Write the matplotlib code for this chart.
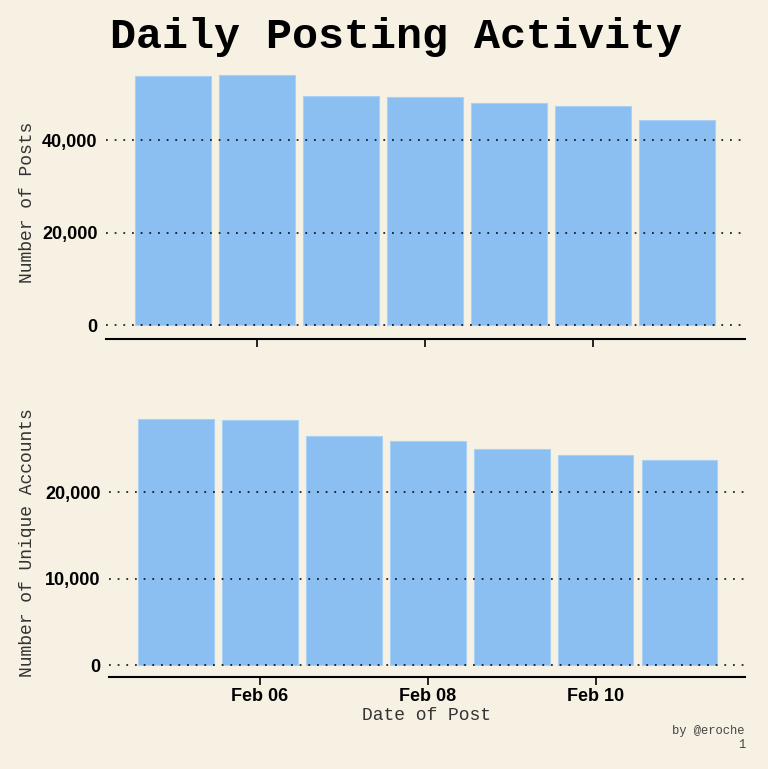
import matplotlib
matplotlib.use("Agg")
import matplotlib.pyplot as plt
import matplotlib.dates as mdates
import matplotlib.ticker as mticker
import pandas as pd

dates = ["2023-02-05", "2023-02-06", "2023-02-07", "2023-02-08",
         "2023-02-09", "2023-02-10", "2023-02-11"]
posts = [53800, 53950, 49600, 49350, 48000, 47350, 44300]
accounts = [28450, 28330, 26470, 25900, 24970, 24280, 23700]

BG = "#F7F1E4"
BAR = "#8BBFF1"
x = pd.to_datetime(dates)

fig = plt.figure(figsize=(7.68, 7.69), dpi=100, facecolor=BG)
W, H = 768, 769

def add_ax(left, right, top, bottom):
    return fig.add_axes([left / W, 1 - bottom / H, (right - left) / W, (bottom - top) / H])

ax1 = add_ax(106, 745, 66, 339)
ax2 = add_ax(109, 745, 405, 677)

mono = "Liberation Mono"
sans = "Liberation Sans"

for ax, vals, ylim, ticks, xl, xr in [
    (ax1, posts, (-3027, 56000), [0, 20000, 40000], 0.80, 0.81),
    (ax2, accounts, (-1387, 30058), [0, 10000, 20000], 0.80, 0.78),
]:
    ax.set_facecolor(BG)
    ax.bar(x, vals, width=0.9, color=BAR, edgecolor="#A9D1F5", linewidth=0.8, zorder=1)
    ax.set_ylim(*ylim)
    ax.set_xlim(x[0] - pd.Timedelta(days=xl), x[-1] + pd.Timedelta(days=xr))
    ax.set_yticks(ticks)
    ax.yaxis.set_major_formatter(mticker.FuncFormatter(lambda v, p: f"{int(v):,}"))
    ax.grid(axis="y", linestyle=(0, (1, 3.8)), color="black", linewidth=1.3, alpha=0.85, zorder=2)
    ax.grid(axis="x", visible=False)
    ax.set_axisbelow(False)
    for s in ["top", "right", "left"]:
        ax.spines[s].set_visible(False)
    ax.spines["bottom"].set_linewidth(1.5)
    ax.spines["bottom"].set_color("black")
    ax.tick_params(axis="y", length=0, pad=6)
    ax.tick_params(axis="x", length=6, width=1.2, color="black", pad=2)
    for t in ax.get_yticklabels():
        t.set_fontfamily(sans)
        t.set_fontweight("bold")
        t.set_fontsize(13)
    ax.xaxis.set_major_locator(mdates.DayLocator(bymonthday=[6, 8, 10]))
    ax.xaxis.set_major_formatter(mdates.DateFormatter("%b %d"))

ax1.tick_params(axis="x", labelbottom=False)
for t in ax2.get_xticklabels():
    t.set_fontfamily(sans)
    t.set_fontweight("bold")
    t.set_fontsize(13)

fig.text(28 / W, 1 - 202 / H, "Number of Posts", rotation=90, ha="center", va="center",
         fontfamily=mono, fontsize=13, color="#333333")
fig.text(28 / W, 1 - 543 / H, "Number of Unique Accounts", rotation=90, ha="center", va="center",
         fontfamily=mono, fontsize=13, color="#333333")
fig.text(427 / W, 1 - 715 / H, "Date of Post", ha="center", va="center",
         fontfamily=mono, fontsize=13, color="#333333")

fig.text(396 / W, 1 - 37 / H, "Daily Posting Activity", ha="center", va="center",
         fontfamily=mono, fontweight="bold", fontsize=31.2, color="black")
fig.text(745 / W, 1 - 731 / H, "by @eroche", ha="right", va="center",
         fontfamily=mono, fontsize=8.7, color="#444444")
fig.text(745 / W, 1 - 745 / H, "1", ha="right", va="center",
         fontfamily=mono, fontsize=8.7, color="#444444")

fig.savefig("out.png", dpi=100, facecolor=BG)
